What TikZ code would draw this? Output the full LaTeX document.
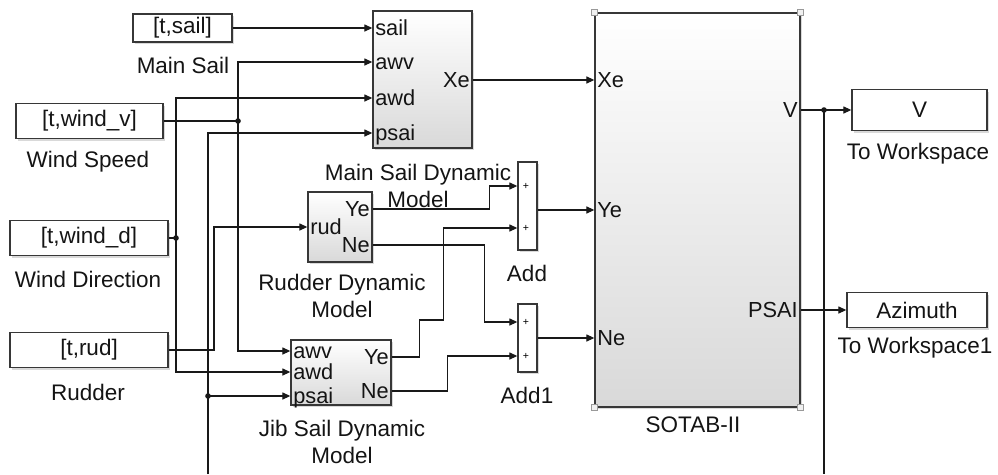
\documentclass[tikz,border=0pt]{standalone}
\usepackage{fontspec}
\setmainfont{Liberation Sans}
\usepackage{tikz}
\usetikzlibrary{arrows.meta,shadows,calc}
\definecolor{wirecol}{RGB}{25,25,25}
\definecolor{edgecol}{RGB}{55,55,55}
\definecolor{txtcol}{RGB}{20,20,20}
\newcommand{\dgfont}{\fontsize{12.8}{15.3}\selectfont}
\newcommand{\pinfont}{\fontsize{12.4}{13}\selectfont}
\tikzset{
  % signal line, arrow at the end
  sig/.style={-{Triangle[length=4.5pt,width=4pt]}, wirecol, line width=0.6pt},
  % plain line
  wire/.style={wirecol, line width=0.6pt},
  % branch point
  jdot/.style={circle, fill=wirecol, inner sep=0pt, minimum size=3.2pt},
  % workspace in/out block
  iobox/.style 2 args={rectangle, draw=edgecol, line width=0.8pt, fill=white, inner sep=0pt,
               minimum width=#1, minimum height=#2, font=\dgfont, text=txtcol,
               drop shadow={shadow xshift=1.4pt, shadow yshift=-1.4pt, opacity=0.3}},
  % subsystem block
  sysbox/.style 2 args={rectangle, draw=edgecol, line width=0.8pt, top color=white, bottom color=black!15,
               inner sep=0pt, minimum width=#1, minimum height=#2,
               drop shadow={shadow xshift=1.4pt, shadow yshift=-1.4pt, opacity=0.3}},
  % sum block
  sumbox/.style={rectangle, draw=edgecol, line width=0.8pt, fill=white, inner sep=0pt,
               minimum width=0.38cm, minimum height=#1,
               drop shadow={shadow xshift=1.4pt, shadow yshift=-1.4pt, opacity=0.3}},
  % port names
  pin/.style={anchor=west, inner sep=0pt, font=\pinfont, text=txtcol, text height=8.8pt, text depth=0pt},
  pout/.style={anchor=east, inner sep=0pt, font=\pinfont, text=txtcol, text height=8.8pt, text depth=0pt},
  % block captions
  lbl/.style={inner sep=0pt, align=center, font=\dgfont, text=txtcol},
  plus/.style={inner sep=0pt, font=\fontsize{6}{6}\selectfont},
  % selection handle
  handle/.style={rectangle, draw=black!40, fill=black!6, line width=0.5pt, minimum size=0.12cm, inner sep=0pt},
}

\begin{document}
\begin{tikzpicture}[x=0.02cm, y=-0.02cm]
  \useasboundingbox (0,0) rectangle (998,474);

  % ── From Workspace sources ──
  \node[iobox={1.98cm}{0.56cm}] (sail) at (182.5,28) {[t,sail]};
  \node[lbl] (sailL) at (183,65) {Main Sail};
  \node[iobox={2.94cm}{0.7cm}] (windv) at (89.5,121) {[t,wind\_v]};
  \node[lbl] (windvL) at (88,162) {Wind Speed};
  \node[iobox={3.16cm}{0.7cm}] (windd) at (89,238) {[t,wind\_d]};
  \node[lbl] (winddL) at (88,279) {Wind Direction};
  \node[iobox={3.16cm}{0.7cm}] (rud) at (89,350) {[t,rud]};
  \node[lbl] (rudL) at (88,392) {Rudder};

  % ── Main sail model ──
  \node[sysbox={1.98cm}{2.74cm}] (ms) at (422.5,79.5) {};
  \node[pin] (msSail) at (375,28) {sail};
  \node[pin] (msAwv) at (375,62) {awv};
  \node[pin] (msAwd) at (375,98) {awd};
  \node[pin] (msPsai) at (375,133) {psai};
  \node[pout] (msXe) at (470,80) {Xe};
  \node[lbl] (msL) at (418,186) {Main Sail Dynamic\\Model};

  % ── Rudder model ──
  \node[sysbox={1.28cm}{1.4cm}] (rdm) at (340,227) {};
  \node[pin] (rdRud) at (310,227) {rud};
  \node[pout] (rdYe) at (370,209) {Ye};
  \node[pout] (rdNe) at (370,245) {Ne};
  \node[lbl] (rdL) at (342,296) {Rudder Dynamic\\Model};

  % ── Jib sail model ──
  \node[sysbox={2cm}{1.3cm}] (jib) at (341,372.5) {};
  \node[pin] (jbAwv) at (293,351) {awv};
  \node[pin] (jbAwd) at (293,372) {awd};
  \node[pin] (jbPsai) at (293,396) {psai};
  \node[pout] (jbYe) at (389,357) {Ye};
  \node[pout] (jbNe) at (389,391) {Ne};
  \node[lbl] (jbL) at (342,442) {Jib Sail Dynamic\\Model};

  % ── Sums ──
  \node[sumbox=1.76cm] (add) at (527.5,206) {};
  \node[plus] (addP1) at (526,186) {+};
  \node[plus] (addP2) at (526,228) {+};
  \node[lbl] (addL) at (527,273) {Add};
  \node[sumbox=1.36cm] (add1) at (527.5,338) {};
  \node[plus] (add1P1) at (526,322) {+};
  \node[plus] (add1P2) at (526,356) {+};
  \node[lbl] (add1L) at (527,395) {Add1};

  % ── Vessel model ──
  \node[sysbox={4.1cm}{7.88cm}] (sotab) at (697.5,210) {};
  \node[pin] (sXe) at (597,80) {Xe};
  \node[pin] (sYe) at (597,210) {Ye};
  \node[pin] (sNe) at (597,338) {Ne};
  \node[pout] (sV) at (798,110) {V};
  \node[pout] (sPsai) at (798,310) {PSAI};
  \node[lbl] (sL) at (693,425) {SOTAB-II};
  \foreach \c/\n in {north west/nw, north east/ne, south west/sw, south east/se}
    \node[handle] (hnd\n) at (sotab.\c) {};

  % ── To Workspace sinks ──
  \node[iobox={2.7cm}{0.82cm}] (vbox) at (919.5,110) {V};
  \node[lbl] (vboxL) at (918,154) {To Workspace};
  \node[iobox={2.8cm}{0.7cm}] (azi) at (917,310) {Azimuth};
  \node[lbl] (aziL) at (915,348) {To Workspace1};

  % branch points and line ends
  \coordinate (jv) at (238,121);
  \coordinate (jd) at (176,238);
  \coordinate (jp) at (208,396);
  \coordinate (fbl) at (208,474);
  \coordinate (rb) at (214,0);
  \coordinate (jV) at (824,110);
  \coordinate (fbr) at (824,474);

  % ── Inputs ──
  \draw[sig] (sail.east) -- (sail.east -| ms.west);
  \draw[wire] (windv.east) -- (jv);
  \draw[sig] (jv) |- (ms.west |- msAwv);
  \draw[sig] (jv) |- (jib.west |- jbAwv);
  \draw[wire] (windd.east) -- (jd);
  \draw[sig] (jd) |- (ms.west |- msAwd);
  \draw[sig] (jd) |- (jib.west |- jbAwd);
  \draw[sig] (fbl) |- (ms.west |- msPsai);
  \draw[sig] (jp) -- (jib.west |- jbPsai);
  \draw[sig] (rud.east) -- (rud.east -| rb) |- (rdm.west |- rdRud);

  % ── Forces to sums and vessel ──
  \draw[sig] (ms.east |- msXe) -- (sotab.west |- msXe);
  \draw[sig] (rdm.east |- rdYe) -- ++(117,0) |- (add.west |- addP1);
  \draw[sig] (jib.east |- jbYe) -- ++(28,0) -- ++(0,-37) -- ++(24,0) |- (add.west |- addP2);
  \draw[sig] (rdm.east |- rdNe) -- ++(112,0) |- (add1.west |- add1P1);
  \draw[sig] (jib.east |- jbNe) -- ++(56,0) |- (add1.west |- add1P2);
  \draw[sig] (add.east |- sYe) -- (sotab.west |- sYe);
  \draw[sig] (add1.east) -- (sotab.west |- add1.east);

  % ── Outputs ──
  \draw[wire] (sotab.east |- sV) -- (jV);
  \draw[sig] (jV) -- (vbox.west);
  \draw[wire] (jV) -- (fbr);
  \draw[sig] (sotab.east |- sPsai) -- (azi.west |- sPsai);

  \node[jdot] (dv) at (jv) {};
  \node[jdot] (dd) at (jd) {};
  \node[jdot] (dp) at (jp) {};
  \node[jdot] (dV) at (jV) {};

\end{tikzpicture}
\end{document}
